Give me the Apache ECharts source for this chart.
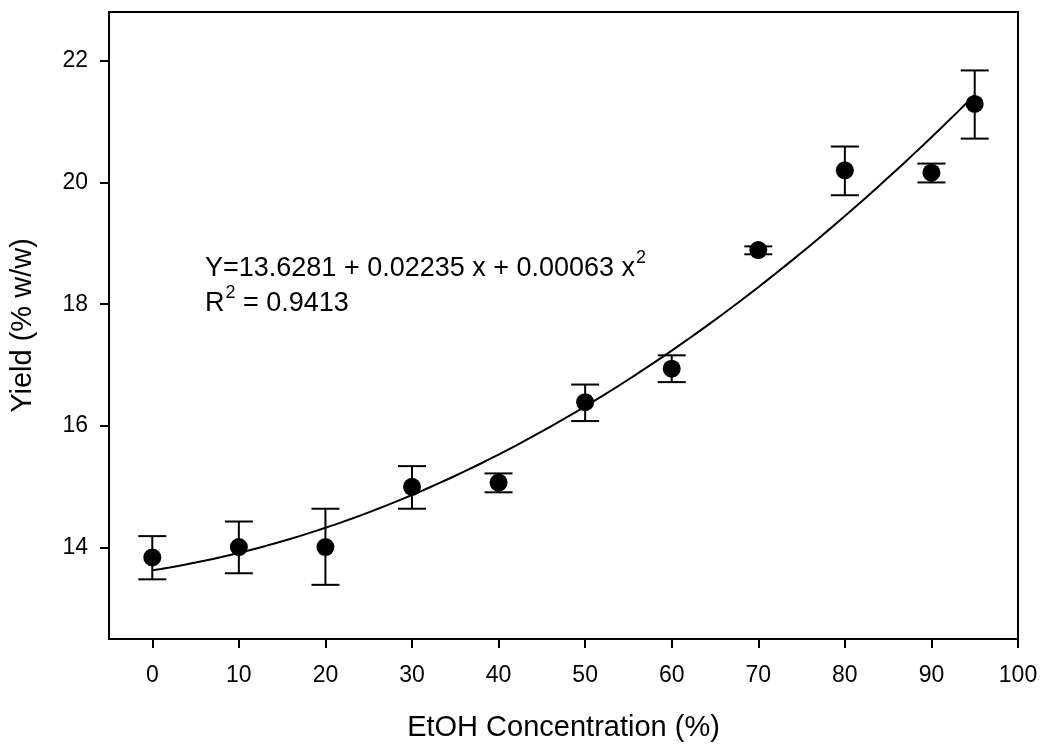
<!DOCTYPE html>
<html>
<head>
<meta charset="utf-8">
<script src="https://cdn.jsdelivr.net/npm/echarts@6/dist/echarts.min.js"></script>
<style>
html,body{margin:0;padding:0;background:#fff;}
#chart{width:1050px;height:753px;}
</style>
</head>
<body>
<div id="chart"></div>
<script>
// Data
const concentrations = [0, 10, 20, 30, 40, 50, 60, 70, 80, 90, 95];
const yieldMean = [13.84, 14.01, 14.01, 15.00, 15.07, 16.39, 16.94, 18.89, 20.20, 20.16, 21.29];
const errLow = [13.48, 13.58, 13.39, 14.64, 14.91, 16.08, 16.72, 18.82, 19.79, 20.00, 20.72];
const errHigh = [14.19, 14.43, 14.64, 15.34, 15.22, 16.68, 17.16, 18.95, 20.59, 20.31, 21.84];
// Regression shown on chart: Y = a + b x + c x^2
const fitCoefs = [13.6281, 0.02235, 0.00063];
const fitRange = [0, 95];
const xTicks = [0, 10, 20, 30, 40, 50, 60, 70, 80, 90, 100];
const yTicks = [14, 16, 18, 20, 22];
const eqLine1 = 'Y=13.6281 + 0.02235 x + 0.00063 x';
const eqLine2a = 'R';
const eqLine2b = ' = 0.9413';
const supText = '2';

const FONT = 'Liberation Sans, Arial, Helvetica, sans-serif';
const EQ_SIZE = 27, SUP_SIZE = 18;

const fitLine = [];
for (let x = fitRange[0]; x <= fitRange[1]; x += 1) {
  fitLine.push([x, fitCoefs[0] + fitCoefs[1] * x + fitCoefs[2] * x * x]);
}
const points = concentrations.map((c, i) => [c, yieldMean[i]]);
const errData = concentrations.map((c, i) => [c, errLow[i], errHigh[i]]);

const mctx = document.createElement('canvas').getContext('2d');
function tw(t, size) { mctx.font = size + 'px ' + FONT; return mctx.measureText(t).width; }

const eqX = 205, eqY1 = 255, eqY2 = 290;
const txt = (t, x, y, size) => ({type: 'text', x: x, y: y, silent: true,
  style: {text: t, x: 0, y: 0, fontFamily: FONT, fontSize: size, fill: '#000', verticalAlign: 'top', align: 'left'}});
const w1 = tw(eqLine1, EQ_SIZE), wR = tw(eqLine2a, EQ_SIZE), wS = tw(supText, SUP_SIZE);

const chart = echarts.init(document.getElementById('chart'), null, {renderer: 'canvas'});
chart.setOption({
  animation: false,
  backgroundColor: '#fff',
  grid: {left: 108, top: 12, right: 32, bottom: 114, show: true, borderColor: '#000', borderWidth: 2, backgroundColor: 'transparent'},
  xAxis: {
    type: 'value', min: -5, max: 100,
    name: 'EtOH Concentration (%)', nameLocation: 'middle', nameGap: 74,
    nameTextStyle: {fontFamily: FONT, fontSize: 29, color: '#000'},
    axisLine: {show: true, onZero: false, lineStyle: {color: '#000', width: 2}},
    axisTick: {show: true, inside: false, length: 9, lineStyle: {color: '#000', width: 2}, customValues: xTicks},
    axisLabel: {fontFamily: FONT, fontSize: 23, color: '#000', margin: 25, customValues: xTicks},
    splitLine: {show: false}
  },
  yAxis: {
    type: 'value', min: 12.5, max: 22.8,
    name: 'Yield (% w/w)', nameLocation: 'middle', nameGap: 72,
    nameTextStyle: {fontFamily: FONT, fontSize: 29, color: '#000'},
    axisLine: {show: true, onZero: false, lineStyle: {color: '#000', width: 2}},
    axisTick: {show: true, inside: false, length: 9, lineStyle: {color: '#000', width: 2}, customValues: yTicks},
    axisLabel: {fontFamily: FONT, fontSize: 23, color: '#000', margin: 21, customValues: yTicks},
    splitLine: {show: false}
  },
  graphic: [
    txt(eqLine1, eqX, eqY1, EQ_SIZE),
    txt(supText, eqX + w1 + 1, eqY1 - 6, SUP_SIZE),
    txt(eqLine2a, eqX, eqY2, EQ_SIZE),
    txt(supText, eqX + wR + 1, eqY2 - 6, SUP_SIZE),
    txt(eqLine2b, eqX + wR + wS + 1, eqY2, EQ_SIZE)
  ],
  series: [
    {
      type: 'line', data: fitLine, showSymbol: false, symbol: 'none', smooth: false,
      lineStyle: {color: '#000', width: 2}, z: 2, silent: true
    },
    {
      type: 'custom', data: errData, z: 3, silent: true,
      renderItem: function (params, api) {
        const x = api.value(0);
        const lo = api.coord([x, api.value(1)]);
        const hi = api.coord([x, api.value(2)]);
        const half = 14;
        const st = {stroke: '#000', lineWidth: 2};
        return {
          type: 'group',
          children: [
            {type: 'line', shape: {x1: lo[0], y1: lo[1], x2: hi[0], y2: hi[1]}, style: st},
            {type: 'line', shape: {x1: hi[0] - half, y1: hi[1], x2: hi[0] + half, y2: hi[1]}, style: st},
            {type: 'line', shape: {x1: lo[0] - half, y1: lo[1], x2: lo[0] + half, y2: lo[1]}, style: st}
          ]
        };
      }
    },
    {
      type: 'scatter', data: points, symbol: 'circle', symbolSize: 18,
      itemStyle: {color: '#000', opacity: 1}, z: 4, silent: true
    }
  ]
});
</script>
</body>
</html>
